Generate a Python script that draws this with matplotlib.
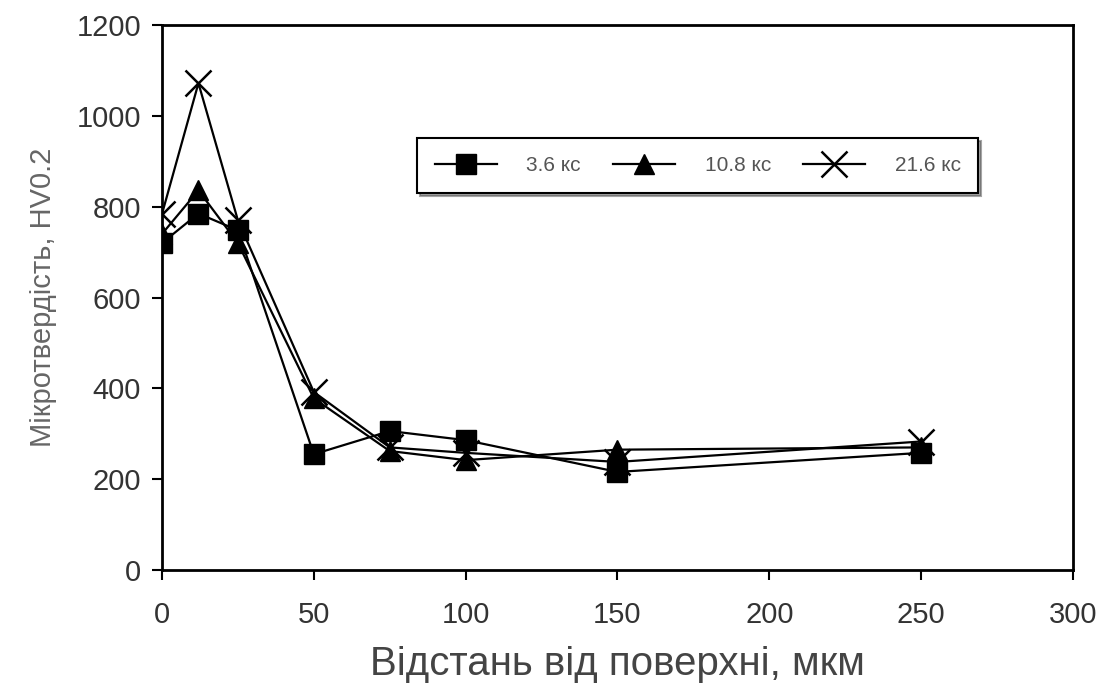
import matplotlib.pyplot as plt

# distance from surface, um
dist = [0, 12, 25, 50, 75, 100, 150, 250]

# microhardness HV0.2 for each saturation time
hv_36 = [720, 785, 748, 255, 306, 286, 216, 258]
hv_108 = [740, 836, 720, 378, 262, 242, 265, 270]
hv_216 = [784, 1072, 770, 392, 270, 258, 238, 283]

labels = ['3.6 кс', '10.8 кс', '21.6 кс']

plt.rcParams['font.family'] = ['Liberation Sans', 'DejaVu Sans']

fig = plt.figure(figsize=(11.05, 6.96), dpi=100)
ax = fig.add_axes([0.1466, 0.181, 0.8244, 0.783])

ax.plot(dist, hv_36, color='black', lw=1.6, marker='s', ms=14, label=labels[0])
ax.plot(dist, hv_108, color='black', lw=1.6, marker='^', ms=15, label=labels[1])
ax.plot(dist, hv_216, color='black', lw=1.6, marker='x', ms=19, mew=1.8, label=labels[2])

ax.set_xlim(0, 300)
ax.set_ylim(0, 1200)
ax.set_xticks(range(0, 301, 50))
ax.set_yticks(range(0, 1201, 200))
ax.tick_params(labelsize=21, length=7, width=1.5, direction='out', colors='black', labelcolor='#333333')
ax.tick_params(axis='x', pad=15)
ax.tick_params(axis='y', pad=8)
for s in ax.spines.values():
    s.set_linewidth(2)

ax.set_xlabel('Відстань від поверхні, мкм', fontsize=29, color='#444444', labelpad=12)
ax.set_ylabel('Мікротвердість, HV0.2', fontsize=21, color='#666666', labelpad=14)

leg = ax.legend(loc='upper left', bbox_to_anchor=(0.280, 0.692, 0.616, 0.1), mode='expand',
                ncol=3, fontsize=15, frameon=True, fancybox=False, shadow=True,
                edgecolor='black', handlelength=3.0, handletextpad=1.4,
                borderpad=0.85, borderaxespad=0, columnspacing=1.5)
leg.get_frame().set_linewidth(1.5)
for t in leg.get_texts():
    t.set_color('#555555')

fig.savefig('out.png', dpi=100)
